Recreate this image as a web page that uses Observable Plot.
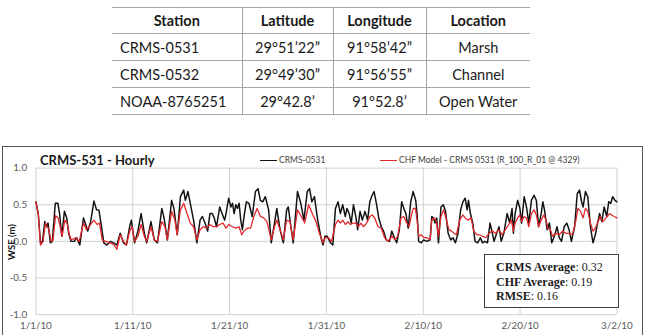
<!DOCTYPE html>
<html><head><meta charset="utf-8">
<script src="https://cdn.jsdelivr.net/npm/d3@7"></script>
<script src="https://cdn.jsdelivr.net/npm/@observablehq/plot@0.6"></script>
<style>
body{margin:0;width:654px;height:335px;overflow:hidden;background:#fff;position:relative;font-family:Lato,"Open Sans",sans-serif;}
#tbl{position:absolute;left:112px;top:7px;border-collapse:collapse;font-size:14.5px;color:#1a1a1a;table-layout:fixed;}
#tbl td,#tbl th{border-top:1px solid #a6a6a6;border-bottom:1px solid #a6a6a6;padding:0;text-align:center;white-space:nowrap;}
#tbl th{height:25px;font-weight:bold;}
#tbl td{height:26px;}
#tbl .c1{text-align:left;padding-left:8px;}
#tbl th.c1{text-align:center;padding-left:0;}
#tbl .sep{border-left:1px solid #a6a6a6;}
#frame{position:absolute;left:2px;top:146px;width:639px;height:200px;border:1px solid #555;}
#chart{position:absolute;left:0;top:0;}
.title{position:absolute;left:37px;top:5px;font-size:13px;font-weight:bold;color:#1a1a1a;line-height:16px;}
.leg{position:absolute;top:7px;font-size:8.5px;color:#404040;line-height:12px;white-space:nowrap;}
.legline{display:inline-block;width:17px;height:0;vertical-align:middle;margin-right:2px;}
.ylab{position:absolute;left:-15px;top:89px;width:48px;text-align:center;transform:rotate(-90deg);font-size:9.5px;font-weight:bold;color:#1a1a1a;line-height:12px;}
.stats{position:absolute;left:481px;top:107px;width:133px;height:52px;border:1px solid #404040;background:#fff;font-family:"Liberation Serif","Times New Roman",serif;font-size:12px;line-height:14.5px;color:#1a1a1a;padding:0;}
.stats div{padding-left:11px;}
.stats div:first-child{margin-top:5px;}
</style>
</head><body>
<table id="tbl">
<colgroup><col style="width:130px"><col style="width:91px"><col style="width:93px"><col style="width:104px"></colgroup>
<tr id="hdr"></tr>
<tbody id="rows"></tbody>
</table>
<div id="frame">
  <div id="chart"></div>
  <div class="title">CRMS-531 - Hourly</div>
  <div class="leg" style="left:257px"><span class="legline" style="border-top:1.5px solid #111"></span>CRMS-0531</div>
  <div class="leg" style="left:377px"><span class="legline" style="border-top:1.5px solid #e3262b"></span>CHF Model - CRMS 0531 (R_100_R_01 @ 4329)</div>
  <div class="ylab">WSE (m)</div>
  <div class="stats" id="stats"></div>
</div>
<script>
// ---- table data ----
const tableHeaders = ["Station", "Latitude", "Longitude", "Location"];
const stations = ["CRMS-0531", "CRMS-0532", "NOAA-8765251"];
const latitudes = ["29°51’22”", "29°49’30”", "29°42.8’"];
const longitudes = ["91°58’42”", "91°56’55”", "91°52.8’"];
const locations = ["Marsh", "Channel", "Open Water"];

// ---- chart data (day offset from 1/1/10, WSE in m) ----
const xTickDays = [0, 10, 20, 30, 40, 50, 60];
const xTickLabels = ["1/1/10", "1/11/10", "1/21/10", "1/31/10", "2/10/10", "2/20/10", "3/2/10"];
const yTicks = [-1, -0.5, 0, 0.5, 1];
const yTickLabels = ["-1.0", "-0.5", "0.0", "0.5", "1.0"];
const seriesNames = ["CRMS-0531", "CHF Model - CRMS 0531 (R_100_R_01 @ 4329)"];
const statLabels = ["CRMS Average", "CHF Average", "RMSE"];
const statValues = ["0.32", "0.19", "0.16"];

const crmsDays = [0.00,0.24,0.47,0.68,0.91,1.08,1.25,1.49,1.69,2.00,2.27,2.44,2.67,2.94,3.18,3.38,3.62,3.96,4.20,4.53,4.91,5.14,5.35,5.65,5.99,6.26,6.50,6.77,7.01,7.34,7.68,8.02,8.36,8.70,9.04,
9.34,9.68,9.85,10.19,10.53,10.86,11.20,11.44,11.88,12.22,12.55,13.00,13.23,13.57,14.01,14.25,14.59,14.92,15.26,15.43,15.70,15.94,16.28,16.62,16.95,17.19,17.46,17.73,17.97,18.21,18.41,18.65,18.98,19.22,19.49,
19.63,19.90,20.14,20.30,20.47,20.64,20.81,20.98,21.15,21.32,21.49,21.73,22.00,22.34,22.67,22.94,23.18,23.42,23.69,24.03,24.30,24.64,24.87,25.21,25.55,25.89,26.06,26.33,26.57,26.74,27.01,27.35,27.68,28.02,28.26,28.49,28.76,29.10,29.44,29.65,
29.85,30.08,30.42,30.66,30.93,31.20,31.44,31.68,31.95,32.12,32.35,32.56,32.79,33.03,33.23,33.47,33.71,33.98,34.25,34.48,34.72,34.92,35.16,35.40,35.67,35.90,36.18,36.51,36.75,37.02,37.26,37.53,37.77,38.04,38.21,38.44,38.71,38.95,39.22,
39.36,39.53,39.80,40.03,40.37,40.71,40.88,41.05,41.22,41.39,41.57,41.83,42.07,42.30,42.57,42.84,43.08,43.32,43.59,43.86,44.09,44.33,44.53,44.67,44.87,45.11,45.35,45.62,45.89,46.12,46.36,46.63,46.90,47.14,47.31,47.58,47.82,48.05,48.32,48.66,48.93,49.17,
49.31,49.48,49.75,49.98,50.15,50.42,50.66,50.90,51.17,51.44,51.68,51.91,52.18,52.35,52.52,52.79,53.03,53.27,53.54,53.81,54.04,54.28,54.55,54.82,55.06,55.30,55.63,55.90,56.14,56.35,56.51,56.75,56.99,57.26,57.53,57.77,58.00,58.21,58.44,58.68,58.95,59.15,59.36,59.56,59.80,60.00];
const crmsValues = [0.54,0.38,-0.02,0.00,0.27,0.20,0.25,-0.02,0.00,0.52,0.52,0.38,0.07,0.41,0.32,0.11,0.00,0.00,0.05,-0.05,0.32,0.23,0.14,0.27,0.55,0.43,0.43,0.20,-0.02,-0.05,0.00,-0.02,-0.05,0.11,-0.02,
-0.05,0.20,0.29,-0.02,0.14,0.38,0.11,-0.02,0.27,0.02,-0.02,0.45,0.32,0.02,0.56,0.45,0.09,0.61,0.70,0.56,0.68,0.52,0.29,-0.02,0.29,0.34,0.25,0.14,0.38,0.38,0.32,0.20,0.47,0.38,0.29,
0.38,0.59,0.47,0.52,0.38,0.50,0.45,0.52,0.29,0.16,0.34,0.54,0.52,0.34,0.68,0.72,0.56,0.54,0.61,0.43,-0.02,0.25,0.45,0.16,-0.02,0.43,0.47,0.20,-0.02,0.25,0.68,0.52,0.29,0.68,0.72,0.54,0.61,0.29,0.05,-0.05,
0.07,0.07,-0.02,-0.05,0.45,0.54,0.38,0.50,0.34,0.45,0.38,0.25,0.50,0.34,0.16,0.41,0.29,0.41,0.29,0.54,0.63,0.68,0.52,0.32,0.20,0.14,0.02,0.00,0.14,0.05,-0.02,0.16,0.54,0.43,0.38,0.18,0.54,0.68,0.56,
0.38,0.00,-0.02,0.02,0.00,0.02,0.34,0.32,0.25,0.32,-0.02,0.47,0.50,0.41,0.11,0.02,0.05,-0.02,0.11,0.43,0.54,0.59,0.43,0.56,0.38,0.25,0.00,-0.02,0.05,-0.02,0.00,-0.02,0.25,0.11,0.00,0.11,0.20,0.00,0.11,0.38,0.25,0.45,
0.11,0.38,0.56,0.45,0.25,0.61,0.47,0.25,0.56,0.63,0.56,0.20,0.38,0.54,0.43,0.16,0.25,-0.02,0.07,0.20,0.05,0.00,0.20,0.25,0.16,0.00,0.20,0.65,0.70,0.54,0.47,0.68,0.61,0.20,-0.02,0.09,0.25,0.38,0.27,0.47,0.34,0.54,0.52,0.61,0.56,0.54];

const chfDays = [0.00,0.24,0.47,0.74,0.98,1.18,1.35,1.56,1.76,2.03,2.30,2.50,2.71,2.98,3.22,3.45,3.65,4.13,4.47,4.91,5.21,5.48,5.99,6.33,6.57,6.84,7.17,7.68,8.09,8.36,8.70,9.04,
9.34,9.68,9.92,10.19,10.53,10.86,11.20,11.44,11.88,12.22,12.55,13.00,13.33,13.57,14.01,14.35,14.59,14.92,15.26,15.60,15.94,16.28,16.62,16.95,17.29,17.63,17.97,18.31,18.65,18.98,19.32,
19.63,19.90,20.30,20.64,20.98,21.25,21.49,21.83,22.17,22.50,22.84,23.18,23.52,23.86,24.30,24.64,24.87,25.21,25.55,25.89,26.23,26.57,27.01,27.41,27.75,28.16,28.60,28.93,29.27,29.65,
29.85,30.19,30.53,30.93,31.20,31.44,31.68,31.95,32.22,32.46,32.79,33.03,33.30,33.57,33.81,34.15,34.48,34.72,34.99,35.33,35.67,36.01,36.35,36.75,37.09,37.36,37.70,37.97,38.24,38.54,38.78,38.98,
39.19,39.36,39.53,39.80,40.03,40.37,40.71,40.88,41.15,41.39,41.57,41.83,42.10,42.40,42.64,42.91,43.18,43.42,43.76,44.09,44.33,44.60,44.94,45.21,45.55,45.79,46.12,46.46,46.80,47.14,47.48,47.82,48.15,48.49,48.83,49.10,
49.31,49.48,49.75,49.98,50.15,50.42,50.66,50.90,51.17,51.44,51.68,51.91,52.18,52.45,52.69,52.86,53.13,53.37,53.71,54.04,54.38,54.72,55.06,55.40,55.74,55.97,56.24,56.51,56.75,56.99,57.26,57.53,57.77,58.00,58.27,58.54,58.88,59.22,59.46,59.70,60.00];
const chfValues = [0.54,0.38,-0.05,0.00,0.25,0.20,0.16,0.00,0.02,0.35,0.32,0.20,0.07,0.29,0.25,0.09,0.02,0.05,0.00,0.25,0.16,0.20,0.29,0.23,0.25,0.02,0.00,-0.02,-0.05,-0.11,0.09,0.00,
-0.05,0.14,0.20,0.00,0.07,0.23,0.07,0.00,0.20,0.02,0.00,0.27,0.20,0.02,0.41,0.29,0.09,0.43,0.52,0.38,0.25,0.20,0.02,0.16,0.20,0.18,0.23,0.20,0.20,0.23,0.25,
0.18,0.23,0.20,0.18,0.20,0.09,0.14,0.18,0.18,0.34,0.45,0.34,0.32,0.27,0.02,0.20,0.29,0.16,0.02,0.29,0.27,0.02,0.43,0.34,0.25,0.50,0.36,0.27,0.11,-0.02,
0.05,0.05,0.00,0.23,0.29,0.25,0.29,0.23,0.27,0.23,0.25,0.25,0.20,0.25,0.20,0.25,0.34,0.36,0.32,0.20,0.18,0.05,0.00,0.07,0.02,0.07,0.32,0.34,0.27,0.20,0.36,0.45,
0.45,0.29,0.07,0.09,0.05,0.05,0.02,0.29,0.32,0.25,0.07,0.34,0.43,0.29,0.16,0.14,0.11,0.09,0.29,0.36,0.32,0.29,0.32,0.14,0.09,0.09,0.07,0.05,0.11,0.14,0.11,0.16,0.09,0.16,0.23,0.29,
0.14,0.25,0.32,0.36,0.27,0.34,0.32,0.20,0.38,0.43,0.36,0.20,0.29,0.36,0.29,0.18,0.16,0.07,0.11,0.09,0.14,0.11,0.11,0.09,0.27,0.45,0.41,0.32,0.45,0.41,0.25,0.14,0.18,0.25,0.34,0.27,0.32,0.38,0.36,0.34,0.32];

// ---- build table ----
const hdr = document.getElementById("hdr");
tableHeaders.forEach((h, i) => {
  const th = document.createElement("th");
  th.textContent = h;
  th.className = (i === 0 ? "c1" : "sep");
  hdr.appendChild(th);
});
const rowsEl = document.getElementById("rows");
stations.forEach((s, r) => {
  const tr = document.createElement("tr");
  [s, latitudes[r], longitudes[r], locations[r]].forEach((v, i) => {
    const td = document.createElement("td");
    td.textContent = v;
    td.className = (i === 0 ? "c1" : "sep");
    tr.appendChild(td);
  });
  rowsEl.appendChild(tr);
});

// ---- stats box ----
const stats = document.getElementById("stats");
statLabels.forEach((l, i) => {
  const d = document.createElement("div");
  d.innerHTML = "<b>" + l + "</b>: " + statValues[i];
  stats.appendChild(d);
});

// ---- chart ----
const crms = crmsDays.map((d, i) => ({d, v: crmsValues[i]}));
const chf = chfDays.map((d, i) => ({d, v: chfValues[i]}));

const chart = Plot.plot({
  width: 650,
  height: 190,
  marginLeft: 33,
  marginRight: 26,
  marginTop: 21,
  marginBottom: 20,
  style: {fontFamily: "Lato, 'Open Sans', sans-serif", fontSize: "10px", color: "#595959", background: "transparent", overflow: "visible"},
  x: {domain: [0, 60], ticks: xTickDays, tickFormat: d => xTickLabels[xTickDays.indexOf(d)], tickSize: 0, tickPadding: 8, label: null},
  y: {domain: [-1, 1], ticks: yTicks, tickFormat: d => yTickLabels[yTicks.indexOf(d)], tickSize: 0, tickPadding: 9, label: null},
  marks: [
    Plot.gridY(yTicks, {stroke: "#d0d0d0", strokeOpacity: 1, strokeWidth: 1}),
    Plot.gridX(xTickDays, {stroke: "#d0d0d0", strokeOpacity: 1, strokeWidth: 1}),
    Plot.lineY(crms, {x: "d", y: "v", stroke: "#111111", strokeWidth: 1.5, title: () => seriesNames[0]}),
    Plot.lineY(chf, {x: "d", y: "v", stroke: "#e3262b", strokeWidth: 1.3, title: () => seriesNames[1]})
  ]
});
document.getElementById("chart").appendChild(chart);
</script>
</body></html>
